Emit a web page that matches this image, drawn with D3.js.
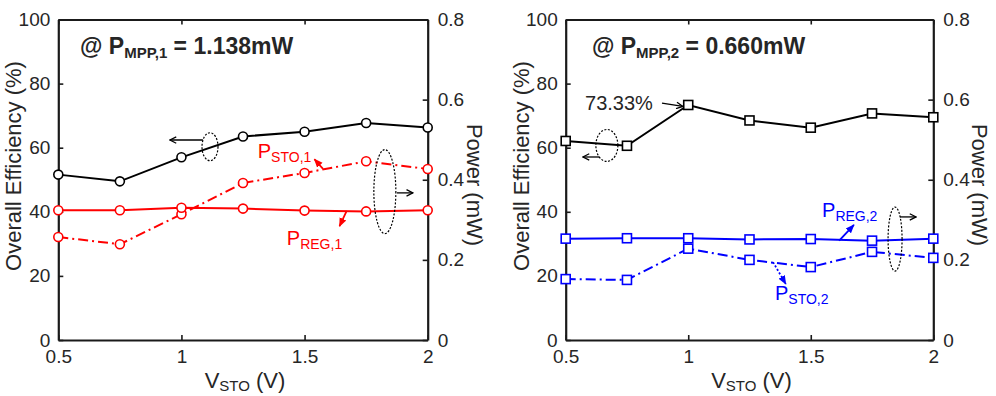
<!DOCTYPE html>
<html><head><meta charset="utf-8">
<script src="https://cdn.jsdelivr.net/npm/d3@7"></script>
<style>
html,body{margin:0;padding:0;background:#fff;}
svg{display:block;font-family:"Liberation Sans",Arial,Helvetica,sans-serif;}
</style></head>
<body><svg id="c" width="996" height="396"></svg>
<script>
// ---- data ----
const vsto = [0.5, 0.75, 1, 1.25, 1.5, 1.75, 2];
const eff1 = [51.6, 49.5, 57.0, 63.5, 65.0, 67.7, 66.3];
const pSto1 = [0.257, 0.239, 0.314, 0.392, 0.417, 0.446, 0.427];
const pReg1 = [0.324, 0.324, 0.330, 0.328, 0.323, 0.321, 0.324];
const eff2 = [62.1, 60.6, 73.33, 68.5, 66.25, 70.7, 69.5];
const pReg2 = [0.253, 0.254, 0.254, 0.251, 0.252, 0.248, 0.253];
const pSto2 = [0.152, 0.150, 0.228, 0.200, 0.182, 0.220, 0.205];
const xTicks = [0.5, 1, 1.5, 2];
const xTickLabels = ["0.5", "1", "1.5", "2"];
const yLeftTicks = [0, 20, 40, 60, 80, 100];
const yRightTicks = [0, 0.2, 0.4, 0.6, 0.8];
const yRightLabels = ["0", "0.2", "0.4", "0.6", "0.8"];

const svg = d3.select("#c");
const TXT = "#262626";

// arrow markers
const defs = svg.append("defs");
function mk(id, color, open) {
  const m = defs.append("marker").attr("id", id).attr("viewBox", "0 0 10 10")
    .attr("refX", 9).attr("refY", 5).attr("orient", "auto")
    .attr("markerUnits", "userSpaceOnUse");
  if (open) {
    m.attr("markerWidth", 8).attr("markerHeight", 8);
    m.append("path").attr("d", "M1,1 L9,5 L1,9").attr("fill", "none")
      .attr("stroke", color).attr("stroke-width", 1.6);
  } else {
    m.attr("markerWidth", 9).attr("markerHeight", 9);
    m.append("path").attr("d", "M0,1 L10,5 L0,9 Z").attr("fill", color);
  }
}
mk("aK", "#000", true);
mk("aR", "#ff0000", false);
mk("aB", "#0000ff", false);

function panel(cfg) {
  const g = svg.append("g");
  const x = d3.scaleLinear().domain([0.5, 2]).range([cfg.x0, cfg.x1]);
  const yL = d3.scaleLinear().domain([0, 100]).range([340, 19.5]);
  const yR = d3.scaleLinear().domain([0, 0.8]).range([340, 19.5]);

  // axes
  const axL = d3.axisLeft(yL).tickValues(yLeftTicks).tickSizeInner(-5).tickSizeOuter(0).tickPadding(8);
  const axR = d3.axisRight(yR).tickValues(yRightTicks).tickFormat((d, i) => yRightLabels[i]).tickSizeInner(-5).tickSizeOuter(0).tickPadding(10);
  const axB = d3.axisBottom(x).tickValues(xTicks).tickFormat((d, i) => xTickLabels[i]).tickSizeInner(-5).tickSizeOuter(0).tickPadding(10);
  const axT = d3.axisTop(x).tickValues(xTicks).tickFormat("").tickSizeInner(-5).tickSizeOuter(0);

  [[axL, `translate(${cfg.x0},0)`], [axR, `translate(${cfg.x1},0)`],
   [axB, `translate(0,340)`], [axT, `translate(0,19.5)`]].forEach(([ax, tr]) => {
    const a = g.append("g").attr("transform", tr).call(ax);
    a.selectAll(".domain").attr("stroke", "#1a1a1a").attr("stroke-width", 2.2);
    a.selectAll(".tick line").attr("stroke", "#1a1a1a").attr("stroke-width", 1.6);
    a.selectAll(".tick text").attr("fill", TXT).attr("font-size", 19)
      .attr("font-family", "Liberation Sans, Arial, sans-serif");
  });

  // axis titles
  g.append("text").attr("transform", `translate(${cfg.x0 - 37},${166}) rotate(-90)`)
    .attr("text-anchor", "middle").attr("fill", TXT).attr("font-size", 22)
    .text("Overall Efficiency (%)");
  g.append("text").attr("transform", `translate(${cfg.x1 + 39},${185}) rotate(90)`)
    .attr("text-anchor", "middle").attr("fill", TXT).attr("font-size", 22)
    .text("Power (mW)");
  const xl = g.append("text").attr("x", (cfg.x0 + cfg.x1) / 2 + 2).attr("y", 388)
    .attr("text-anchor", "middle").attr("fill", TXT).attr("font-size", 22);
  xl.append("tspan").text("V");
  xl.append("tspan").attr("font-size", 15).attr("dy", 3).text("STO");
  xl.append("tspan").attr("dy", -3).text(" (V)");

  // series
  cfg.series.forEach(s => {
    const yS = s.axis === "L" ? yL : yR;
    const line = d3.line().x((d, i) => x(vsto[i])).y(d => yS(d));
    g.append("path").datum(s.values).attr("d", line).attr("fill", "none")
      .attr("stroke", s.color).attr("stroke-width", 2)
      .attr("stroke-dasharray", s.dash ? "10,4,2,4" : null);
    if (cfg.marker === "circle") {
      g.selectAll(null).data(s.values).enter().append("circle")
        .attr("cx", (d, i) => x(vsto[i])).attr("cy", d => yS(d)).attr("r", 4.5)
        .attr("fill", "#fff").attr("stroke", s.color).attr("stroke-width", 1.6);
    } else {
      g.selectAll(null).data(s.values).enter().append("rect")
        .attr("x", (d, i) => x(vsto[i]) - 4.5).attr("y", d => yS(d) - 4.5)
        .attr("width", 9).attr("height", 9)
        .attr("fill", "#fff").attr("stroke", s.color).attr("stroke-width", 1.6);
    }
  });

  // title
  const t = g.append("text").attr("x", x(cfg.title.x)).attr("y", yL(cfg.title.y))
    .attr("fill", TXT).attr("font-size", 23).attr("font-weight", "bold");
  t.append("tspan").text("@ P");
  t.append("tspan").attr("font-size", 15).attr("dy", 4).text(cfg.title.sub);
  t.append("tspan").attr("dy", -4).text(cfg.title.rest);

  // annotations
  cfg.ellipses.forEach(e => {
    g.append("ellipse").attr("cx", x(e[0])).attr("cy", yL(e[1])).attr("rx", e[2]).attr("ry", e[3])
      .attr("fill", "none").attr("stroke", "#000").attr("stroke-width", 1.2)
      .attr("stroke-dasharray", "2,1.6");
  });
  cfg.arrows.forEach(a => {
    const col = a[4] === "K" ? "#000" : a[4] === "R" ? "#ff0000" : "#0000ff";
    g.append("line").attr("x1", x(a[0])).attr("y1", yL(a[1])).attr("x2", x(a[2])).attr("y2", yL(a[3]))
      .attr("stroke", col).attr("stroke-width", a[4] === "K" ? 1.3 : 1.8)
      .attr("stroke-dasharray", a[5] ? "2,2" : null)
      .attr("marker-end", `url(#a${a[4]})`);
  });
  cfg.labels.forEach(l => {
    const tx = g.append("text").attr("x", x(l.x)).attr("y", yL(l.y))
      .attr("fill", l.color).attr("font-size", l.size || 20);
    tx.append("tspan").text(l.main);
    if (l.sub) tx.append("tspan").attr("font-size", 14).attr("dy", 4).text(l.sub);
  });
}

panel({
  x0: 58.3, x1: 427.7, marker: "circle",
  series: [
    { values: eff1, axis: "L", color: "#000", dash: false },
    { values: pSto1, axis: "R", color: "#ff0000", dash: true },
    { values: pReg1, axis: "R", color: "#ff0000", dash: false }
  ],
  title: { x: 0.588, y: 89.3, sub: "MPP,1", rest: " = 1.138mW" },
  ellipses: [[1.116, 60.3, 8, 14], [1.826, 46.3, 11, 42]],
  arrows: [
    [1.087, 62.4, 0.953, 62.4, "K"],
    [1.875, 45.9, 1.94, 45.9, "K"],
    [1.575, 53.4, 1.540, 56.4, "R"],
    [1.671, 40.3, 1.642, 35.5, "R"]
  ],
  labels: [
    { x: 1.31, y: 56.8, main: "P", sub: "STO,1", color: "#ff0000" },
    { x: 1.428, y: 29.6, main: "P", sub: "REG,1", color: "#ff0000" }
  ]
});

panel({
  x0: 565.7, x1: 933.3, marker: "square",
  series: [
    { values: eff2, axis: "L", color: "#000", dash: false },
    { values: pReg2, axis: "R", color: "#0000ff", dash: false },
    { values: pSto2, axis: "R", color: "#0000ff", dash: true }
  ],
  title: { x: 0.607, y: 89.3, sub: "MPP,2", rest: " = 0.660mW" },
  ellipses: [[0.668, 60.7, 11, 16], [1.844, 31.5, 7, 32]],
  arrows: [
    [0.893, 73.9, 0.978, 72.9, "K"],
    [0.636, 57.1, 0.570, 57.1, "K"],
    [1.616, 31.0, 1.676, 35.9, "B"],
    [1.346, 24.3, 1.398, 17.5, "B", true],
    [1.864, 38.4, 1.93, 38.4, "K"]
  ],
  labels: [
    { x: 0.579, y: 71.8, main: "73.33%", color: TXT, size: 20 },
    { x: 1.546, y: 38.4, main: "P", sub: "REG,2", color: "#0000ff" },
    { x: 1.354, y: 12.5, main: "P", sub: "STO,2", color: "#0000ff" }
  ]
});
</script>
</body></html>
